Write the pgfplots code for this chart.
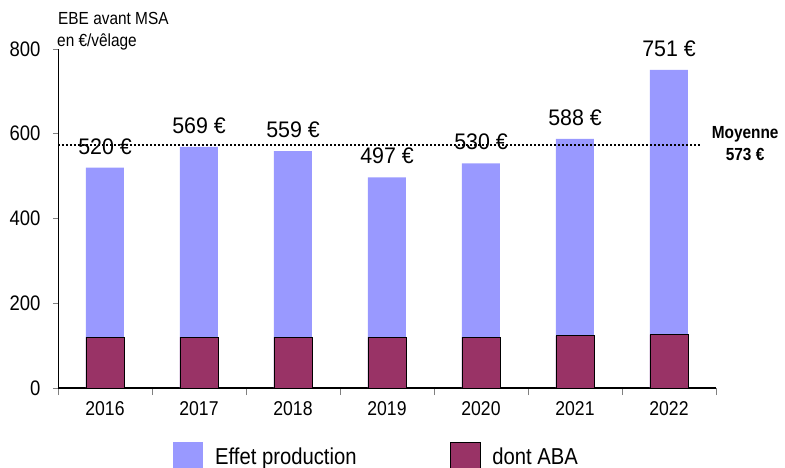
\documentclass[border=0pt]{standalone}
\usepackage{fontspec}
\setmainfont[FakeStretch=0.88]{Liberation Sans}
\newfontfamily\valfont[FakeStretch=0.95]{Liberation Sans}
\usepackage{pgfplots}
\pgfplotsset{compat=1.18}
\definecolor{prodblue}{HTML}{9999FF}
\definecolor{abared}{HTML}{993366}
\begin{document}
\begin{tikzpicture}
\useasboundingbox (-58bp,-80bp) rectangle (727bp,388bp);
\begin{axis}[
  at={(0,0)}, anchor=south west,
  width=658bp, height=339bp, scale only axis,
  xmin=-0.5, xmax=6.5, ymin=0, ymax=800,
  enlargelimits=false, clip=false,
  axis x line*=bottom, axis y line*=left,
  x axis line style={-, line width=1.6bp},
  y axis line style={-, line width=0.9bp},
  tick align=outside,
  xtick={0,1,2,3,4,5,6},
  xticklabels={2016,2017,2018,2019,2020,2021,2022},
  major x tick style={draw=none},
  minor xtick={-0.5,0.5,1.5,2.5,3.5,4.5,5.5,6.5},
  minor x tick style={line width=0.9bp},
  minor tick length=7bp,
  ytick={0,200,400,600,800},
  major tick length=5bp,
  y tick style={line width=0.9bp},
  /pgf/number format/assume math mode=true,
  xticklabel style={font=\fontsize{20bp}{24bp}\selectfont, yshift=-5bp},
  yticklabel style={font=\fontsize{21bp}{24bp}\selectfont, xshift=-9bp},
  ybar, bar width=38bp,
  legend columns=2,
  legend style={at={(0.1748,-0.2035)}, anchor=west, draw=none, fill=none,
    inner sep=0pt, font=\fontsize{23bp}{27bp}\selectfont,
    nodes={inner sep=0pt},
    /tikz/every odd column/.style={column sep=12bp},
    /tikz/every even column/.style={column sep=93bp}},
  legend image code/.code={\fill[#1] (0bp,-15bp) rectangle (30bp,15bp);},
]
\addplot[bar shift=0bp, fill=prodblue, draw=none,
  nodes near coords={\valfont\pgfmathprintnumber{\pgfplotspointmeta}~€},
  every node near coord/.append style={anchor=base, yshift=13.5bp, inner sep=0pt,
    font=\fontsize{22.5bp}{26bp}\selectfont, text=black}]
  coordinates {(0,520) (1,569) (2,559) (3,497) (4,530) (5,588) (6,751)};
\addlegendentry{Effet production}
\addplot[bar shift=0bp, fill=abared, draw=black, line width=0.8bp]
  coordinates {(0,120) (1,120) (2,120) (3,120) (4,120) (5,123) (6,126)};
\addlegendentry{dont ABA}
\addplot[sharp plot, forget plot, black, line width=2bp, dash pattern=on 2bp off 2bp]
  coordinates {(-0.5,573) (6.33,573)};
\node[anchor=base, font=\bfseries\fontsize{17.5bp}{20bp}\selectfont, inner sep=0pt]
  at (axis cs:6.81,573) [yshift=7bp] {Moyenne};
\node[anchor=base, font=\bfseries\fontsize{17.5bp}{20bp}\selectfont, inner sep=0pt]
  at (axis cs:6.81,573) [yshift=-15bp] {573 €};
\node[anchor=base west, font=\fontsize{17.5bp}{21bp}\selectfont, inner sep=0pt]
  at (rel axis cs:0,1) [yshift=24bp] {EBE avant MSA};
\node[anchor=base west, font=\fontsize{17.5bp}{21bp}\selectfont, inner sep=0pt]
  at (rel axis cs:0,1) [yshift=2bp, xshift=-1bp] {en €/vêlage};
\end{axis}
\end{tikzpicture}
\end{document}
